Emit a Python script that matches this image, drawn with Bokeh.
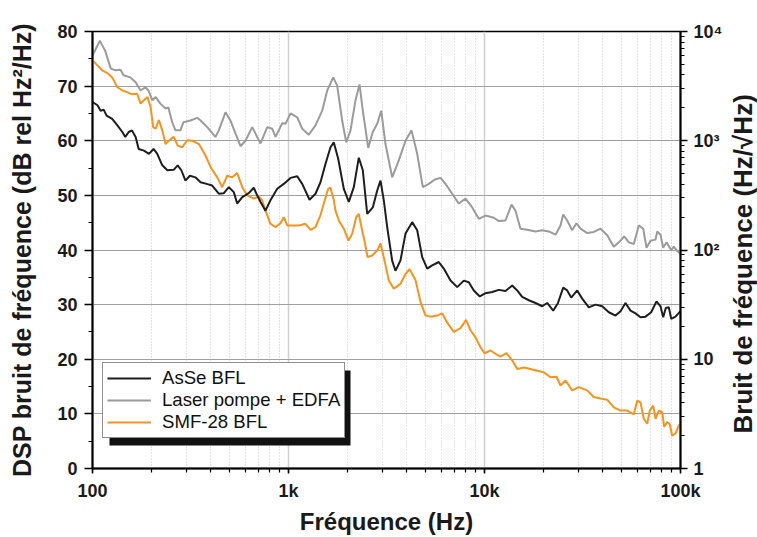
from bokeh.plotting import figure
from bokeh.models import (Range1d, LogAxis, LogScale, LogTicker, SingleIntervalTicker,
                          Legend, LegendItem, BoxAnnotation, Plot, Title)
from bokeh.layouts import row
from bokeh.embed import file_html
from bokeh.resources import INLINE

# ---------------- data (frequency in Hz, PSD in dB rel Hz^2/Hz) ----------------
grey_f = [100,109,116,124,131,139,144,156,166,176,186,193,202,210,222,236,244,255,265,281,291,316,342,356,385,424,441,477,506,537,569,603,653,692,720,779,826,859,929,965,1024,1108,1175,1269,1373,1486,1576,1691,1772,1879,1970,2072,2197,2303,2394,2551,2692,2835,2972,3125,3381,3654,3953,4242,4536,4844,5198,5577,5964,6325,6843,7395,8000,8655,9353,10118,11155,11830,12798,13733,14390,15264,16514,18205,19697,21285,23030,24420,25210,26420,28020,29470,30890,33420,36110,39070,42270,45680,49420,51650,54480,57770,61270,64520,67070,70290,74590,76060,79060,81610,84840,89660,92430,96190,100000]
grey_db = [75.6,78.3,76.5,73.2,72.9,73.0,72.0,71.6,70.7,69.2,69.8,69.2,67.4,68.0,66.8,65.9,66.1,63.4,61.9,61.9,63.4,63.7,64.2,63.7,62.5,60.7,61.9,65.2,63.7,61.3,59.0,60.0,62.5,60.7,59.5,62.5,62.2,60.7,63.2,63.1,65.0,64.3,62.2,61.1,62.8,65.5,69.2,71.6,70.1,63.7,59.7,61.9,67.4,70.3,65.5,58.7,61.6,63.1,65.5,59.4,53.3,56.4,60.0,61.9,57.6,51.5,52.1,52.9,53.2,52.1,50.3,48.5,49.4,47.8,45.7,46.3,45.9,45.3,45.4,48.3,47.2,43.9,43.7,43.4,43.6,43.4,42.8,44.5,46.5,45.4,43.6,44.9,43.9,43.1,43.3,43.9,42.7,40.6,41.7,42.5,41.4,41.1,44.5,43.9,40.4,41.7,41.9,43.4,42.8,40.4,41.4,40.0,40.6,39.8,39.3]

black_f = [100,106,110,114,118,126,134,142,147,153,159,166,172,183,194,205,214,227,241,260,272,284,298,314,335,356,382,408,441,468,496,526,547,581,627,665,692,720,763,809,876,946,1024,1108,1175,1280,1373,1456,1545,1638,1703,1793,1915,2031,2154,2284,2394,2521,2692,2835,2947,3064,3188,3381,3515,3727,3953,4277,4536,4810,5101,5410,5845,6200,6707,7257,7842,8316,8819,9464,10118,10947,11830,12798,13846,14684,15572,16828,18205,19697,20888,22413,23658,25210,26420,27693,29720,31510,34050,36840,39860,43070,46600,49420,52410,55580,58940,62500,66280,70870,75440,79060,81610,84140,87160,89660,94300,100000]
black_db = [67.1,66.5,65.5,65.7,64.6,64.0,62.8,61.6,60.7,61.6,61.9,60.7,58.5,58.2,57.6,58.5,57.6,55.5,54.6,54.7,55.5,54.6,52.7,53.6,53.3,52.4,52.1,51.8,50.3,50.4,51.5,50.6,48.5,49.7,50.4,51.4,50.0,48.8,47.2,49.1,51.2,52.1,53.2,53.5,52.1,49.2,50.3,52.4,55.8,58.8,59.7,56.7,51.2,48.8,51.5,56.9,54.6,46.6,47.8,50.9,52.7,49.1,44.2,38.0,36.2,38.1,43.0,45.1,43.6,38.7,36.6,37.2,37.8,36.6,34.4,33.2,34.4,34.1,32.6,31.5,32.1,32.3,32.7,32.5,33.5,32.6,31.4,30.8,30.3,29.7,30.3,28.9,30.2,33.1,32.6,31.3,32.6,31.1,29.5,30.0,29.7,28.6,28.0,28.8,30.3,28.9,28.4,27.7,27.8,28.6,30.6,29.7,27.7,29.4,29.5,27.4,27.8,28.8]

orange_f = [100,106,112,119,126,134,142,150,159,169,176,183,191,198,204,210,218,227,236,250,260,272,287,304,323,349,377,400,433,459,487,516,547,581,616,665,706,734,763,809,859,910,946,985,1044,1129,1221,1295,1373,1456,1514,1594,1638,1703,1737,1806,1915,2022,2114,2215,2284,2394,2442,2530,2673,2835,2947,3089,3249,3446,3727,3953,4143,4446,4715,5000,5303,5737,6084,6452,6973,7544,8047,8484,8998,9541,10000,10730,11380,12070,12950,13846,14684,15867,17166,18573,20070,21714,23300,24420,25900,28020,30280,33420,36110,39070,42270,45680,49420,53460,57770,60130,62500,64980,67620,69730,72570,74590,77500,80660,82540,85540,88190,90720,94300,98030,100000]
orange_db = [74.7,73.8,72.9,72.4,71.6,69.8,69.2,68.9,68.5,68.6,66.8,67.4,68.0,66.1,62.5,62.2,63.8,61.9,59.4,60.3,60.7,59.1,58.8,60.1,60.0,59.4,57.3,55.2,53.3,51.5,53.6,53.3,54.1,51.5,50.0,49.4,49.8,49.1,47.2,44.8,44.2,44.9,46.0,44.5,44.5,44.5,44.8,43.7,44.2,46.4,48.5,51.2,51.4,49.1,47.2,45.4,43.9,41.7,43.0,46.0,46.6,43.0,41.7,38.7,39.0,39.9,41.2,38.1,34.4,32.9,33.8,35.6,36.5,34.5,30.5,28.0,27.8,28.0,28.4,26.7,25.0,25.7,27.2,25.3,24.0,22.2,21.1,21.6,21.0,20.5,21.1,19.8,18.2,18.5,18.2,17.9,17.6,16.7,16.8,15.2,16.1,14.3,14.9,14.3,13.1,12.8,12.6,11.2,10.6,10.6,9.9,12.4,12.1,9.1,8.2,10.6,11.5,9.1,10.6,10.3,7.6,8.5,8.1,6.0,6.4,7.9,8.2]

series_labels = ["AsSe BFL", "Laser pompe + EDFA", "SMF-28 BFL"]
x_tick_values = [100, 1000, 10000, 100000]
x_tick_labels = ["100", "1k", "10k", "100k"]
r_tick_values = [1, 10, 100, 1000, 10000]
r_tick_labels = ["1", "10", "10\u00b2", "10\u00b3", "10\u2074"]

x_title = "Fréquence (Hz)"
y_title = "DSP bruit de fréquence (dB rel Hz²/Hz)"
r_title = "Bruit de fréquence  (Hz/\u221aHz)"

FONT = "Liberation Sans"
C_BLACK = "#1e1e1e"
C_GREY = "#9b9b9b"
C_ORANGE = "#f7941d"

p = figure(width=727, height=537, x_axis_type="log", x_range=(100, 100000), y_range=(0, 80),
           output_backend="svg", toolbar_location=None,
           min_border_left=92, min_border_right=47, min_border_top=31, min_border_bottom=69)
p.background_fill_color = "white"
p.border_fill_color = "white"
p.outline_line_color = "black"
p.outline_line_width = 1.5

# right log axis
p.extra_y_ranges = {"r": Range1d(1, 10000)}
p.extra_y_scales = {"r": LogScale()}
ra = LogAxis(y_range_name="r", ticker=LogTicker(num_minor_ticks=10))
p.add_layout(ra, "right")

xa = p.xaxis[0]
ya = p.yaxis[0]
xa.ticker = LogTicker(num_minor_ticks=10)
ya.ticker = SingleIntervalTicker(interval=10, num_minor_ticks=2)
xa.major_label_overrides = dict(zip(x_tick_values, x_tick_labels))
ra.major_label_overrides = dict(zip(r_tick_values, r_tick_labels))

for ax in (xa, ya, ra):
    ax.axis_line_color = "black"
    ax.axis_line_width = 2
    ax.major_tick_line_color = "black"
    ax.major_tick_line_width = 1.5
    ax.minor_tick_line_color = "black"
    ax.minor_tick_line_width = 1.2
    ax.major_tick_in = 0
    ax.minor_tick_in = 0
    ax.major_label_text_font = FONT
    ax.major_label_text_font_style = "bold"
    ax.major_label_text_font_size = "18px"
    ax.major_label_text_color = "#1a1a1a"
    ax.axis_label_text_font = FONT
    ax.axis_label_text_font_style = "bold"
    ax.axis_label_text_color = "#1a1a1a"

xa.major_tick_out = 5
xa.minor_tick_out = 4
xa.major_label_standoff = 7
xa.axis_label = x_title
xa.axis_label_text_font_size = "24px"
xa.axis_label_standoff = 4

ya.major_tick_out = 8
ya.minor_tick_out = 4
ya.major_label_standoff = 7
ya.axis_label = y_title
ya.axis_label_text_font_size = "25px"
ya.axis_label_standoff = 18

ra.major_tick_out = 7
ra.minor_tick_out = 4
ra.major_label_standoff = 6

# grids
p.ygrid.grid_line_color = "#a0a0a0"
p.ygrid.grid_line_width = 1.2
p.xgrid.grid_line_color = "#cfcfcf"
p.xgrid.grid_line_width = 1.5
p.xgrid.minor_grid_line_color = "#c4c4c4"
p.xgrid.minor_grid_line_width = 1
p.xgrid.minor_grid_line_dash = "1 2"

# curves
r_grey = p.line(grey_f, grey_db, line_color=C_GREY, line_width=2)
r_orange = p.line(orange_f, orange_db, line_color=C_ORANGE, line_width=2)
r_black = p.line(black_f, black_db, line_color=C_BLACK, line_width=2)

# legend with drop shadow
LEG_X, LEG_Y = 10, 30
LEG_W, LEG_H = 241, 75
SH = 7
shadow = BoxAnnotation(left=LEG_X + SH, right=LEG_X + SH + LEG_W, bottom=LEG_Y - SH, top=LEG_Y - SH + LEG_H,
                       left_units="screen", right_units="screen", top_units="screen", bottom_units="screen",
                       fill_color="#111111", fill_alpha=1, line_color=None)
p.add_layout(shadow)

legend = Legend(items=[LegendItem(label=series_labels[0], renderers=[r_black]),
                       LegendItem(label=series_labels[1], renderers=[r_grey]),
                       LegendItem(label=series_labels[2], renderers=[r_orange])],
                location=(LEG_X, LEG_Y), orientation="vertical")
legend.label_text_font = FONT
legend.label_text_font_size = "18.6px"
legend.label_text_line_height = 1.0
legend.label_text_color = "#111111"
legend.glyph_width = 44
legend.glyph_height = 20
legend.label_height = 20
legend.label_standoff = 11
legend.padding = 4
legend.spacing = 0
legend.margin = 0
legend.border_line_color = "#222222"
legend.border_line_width = 1
legend.background_fill_color = "white"
legend.background_fill_alpha = 1
p.add_layout(legend, "center")

# right-hand axis title (reads bottom-to-top), held in a narrow companion panel
p2 = Plot(width=30, height=537, toolbar_location=None, output_backend="svg",
          min_border_left=0, min_border_right=0, min_border_top=31, min_border_bottom=69,
          outline_line_color=None, background_fill_color="white", border_fill_color="white",
          title_location="left",
          title=Title(text=r_title, align="left", offset=35, text_font=FONT, text_font_style="bold",
                      text_font_size="26px", text_color="#1a1a1a", standoff=0))

layout = row(p, p2, spacing=0)
open("out.html", "w").write(file_html(layout, INLINE))
